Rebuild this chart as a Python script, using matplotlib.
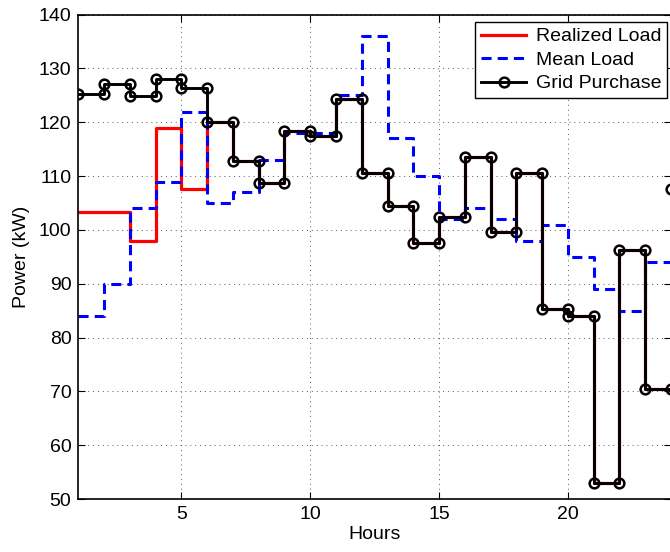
import numpy as np
import matplotlib
matplotlib.use('Agg')
import matplotlib.pyplot as plt

plt.rcParams['font.family'] = ['Liberation Sans', 'DejaVu Sans']

# hourly values, hour h covers [h, h+1]
hours = np.arange(1, 25)
realized_load = [103.3, 103.4, 98.0, 119.0, 107.6, 120.0, 112.9, 108.8, 118.3, 117.5,
                 124.3, 110.6, 104.4, 97.5, 102.4, 113.6, 99.7, 110.6, 85.3, 84.0,
                 53.0, 96.3, 70.4, 107.6]
mean_load = [84.0, 90.0, 104.0, 109.0, 122.0, 105.0, 107.0, 113.0, 118.0, 118.0,
             125.0, 136.0, 117.0, 110.0, 102.0, 104.0, 102.0, 98.0, 101.0, 95.0,
             89.0, 85.0, 94.0, 96.0]
grid_purchase = [125.2, 127.2, 124.8, 128.0, 126.4, 120.0, 112.9, 108.8, 118.3, 117.5,
                 124.3, 110.6, 104.4, 97.5, 102.4, 113.6, 99.7, 110.6, 85.3, 84.0,
                 53.0, 96.3, 70.4, 107.6]

def stairs(vals):
    x = np.column_stack([hours, hours + 1]).ravel()
    y = np.repeat(vals, 2)
    return x, y

fig = plt.figure(figsize=(6.7, 5.52), dpi=100)
ax = fig.add_axes([0.1169, 0.0960, 0.8846, 0.8774])

x, y = stairs(realized_load)
ax.plot(x, y, color='red', lw=2.3, label='Realized Load')
x, y = stairs(mean_load)
ax.plot(x, y, color='blue', lw=2.2, dashes=(3.3, 2.0), label='Mean Load')
x, y = stairs(grid_purchase)
ax.plot(x, y, color='black', lw=2.1, marker='o', ms=7, mfc='none', mew=1.8,
        label='Grid Purchase')

ax.set_xlim(1, 24)
ax.set_ylim(50, 140)
ax.set_xticks([5, 10, 15, 20])
ax.set_yticks(np.arange(50, 141, 10))
ax.tick_params(direction='in', length=5, width=0.8, top=True, right=True,
               labelsize=14, pad=5)
for s in ax.spines.values():
    s.set_linewidth(1.2)
ax.grid(True, color='0.35', linestyle=(0, (1, 4)), lw=0.7)

ax.set_xlabel('Hours', fontsize=14, labelpad=2)
ax.set_ylabel('Power (kW)', fontsize=14, labelpad=6)

leg = ax.legend(loc='upper right', bbox_to_anchor=(667 / 670, 1 - 22 / 552),
                bbox_transform=fig.transFigure, borderaxespad=0, fancybox=False,
                edgecolor='black', framealpha=1, fontsize=14, handlelength=2.3,
                labelspacing=0.3, borderpad=0.3, handletextpad=0.5)
leg.get_frame().set_linewidth(1.0)

fig.savefig('out.png', dpi=100)
